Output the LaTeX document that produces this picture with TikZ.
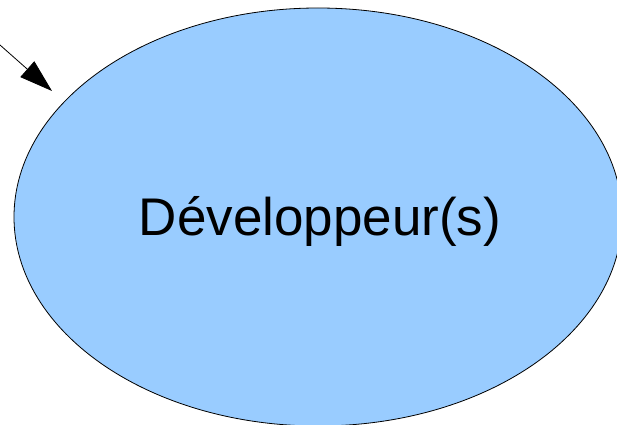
\documentclass[tikz,border=0pt]{standalone}
\usepackage{fontspec}
\setmainfont{Liberation Sans}
\usetikzlibrary{shapes.geometric, arrows.meta}
\definecolor{devblue}{HTML}{99CCFF}
\begin{document}
\begin{tikzpicture}[x=1pt, y=1pt]
\useasboundingbox (0, 0) rectangle (617, 424);
\node[ellipse, draw, fill=devblue, line width=0.8, inner sep=0,
  minimum width=608, minimum height=418] (dev) at (318, 207) {};
\node[anchor=base, font=\fontsize{53}{60}\selectfont] (devtext) at (320, 189) {Développeur(s)};
\coordinate (src) at (0, 379);
\coordinate (tip) at (52, 333);
\draw[line width=0.8, -{Triangle[length=33, width=21]}] (src) -- (tip);
\end{tikzpicture}
\end{document}
